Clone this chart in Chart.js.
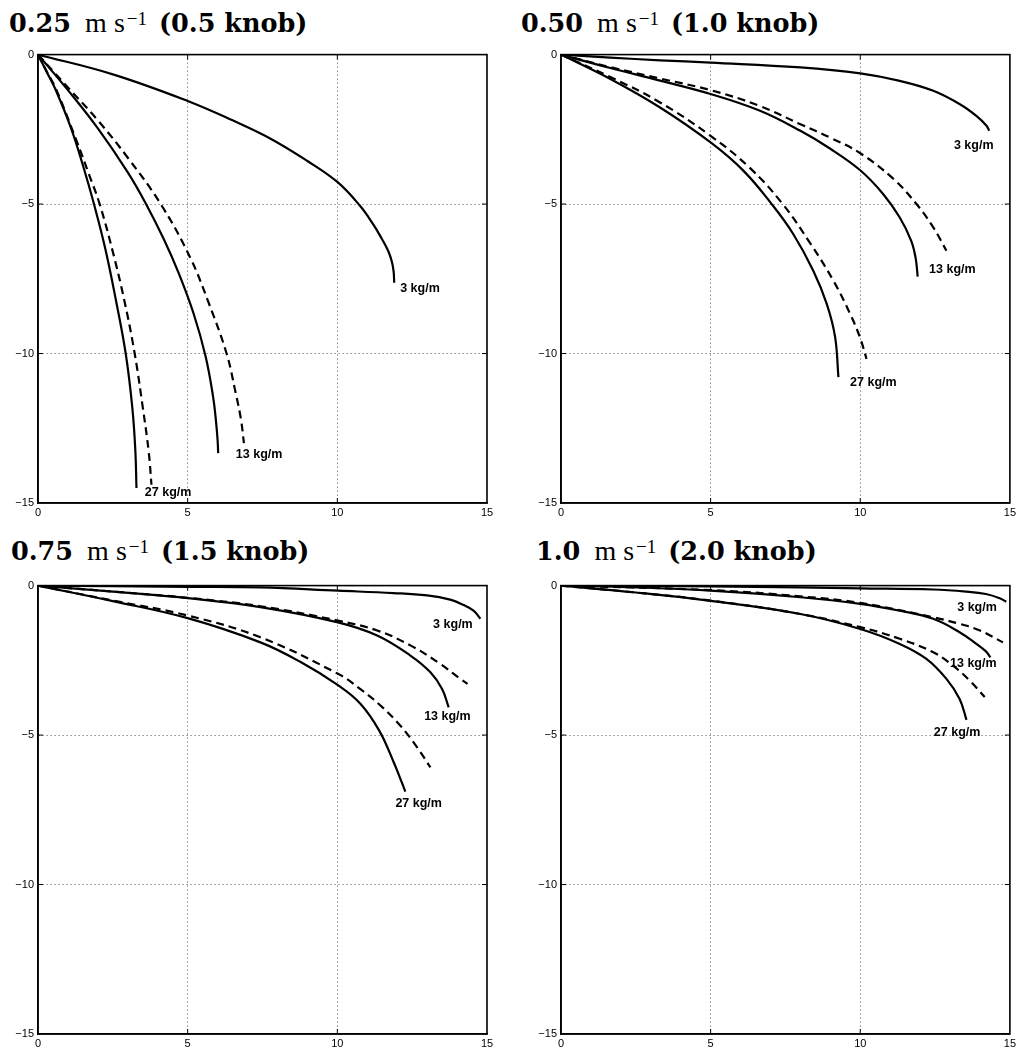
<!DOCTYPE html>
<html>
<head>
<meta charset="utf-8">
<script src="https://cdn.jsdelivr.net/npm/chart.js@4.4.1/dist/chart.umd.min.js"></script>
<style>
  body { margin: 0; background: #fff; width: 1019px; height: 1053px; position: relative; overflow: hidden; }
  canvas { position: absolute; }
  .ttl { position: absolute; font-family: "DejaVu Serif", "Liberation Serif", serif; font-size: 25.5px; font-weight: bold; line-height: 30px; white-space: nowrap; color: #000; }
  .ttl .u { font-family: "Liberation Serif", serif; font-weight: normal; font-size: 28px; margin: 0 12px 0 14px; }
  .ttl sup { font-size: 19px; position: relative; top: -4px; vertical-align: top; margin-left: 2px; }
</style>
</head>
<body>
<div class="ttl" style="left:9px;top:8px">0.25<span class="u">m s<sup>−1</sup></span>(0.5 knob)</div>
<div class="ttl" style="left:521px;top:8px">0.50<span class="u">m s<sup>−1</sup></span>(1.0 knob)</div>
<div class="ttl" style="left:11px;top:536px">0.75<span class="u">m s<sup>−1</sup></span>(1.5 knob)</div>
<div class="ttl" style="left:536px;top:536px">1.0<span class="u">m s<sup>−1</sup></span>(2.0 knob)</div>

<canvas id="c1" width="505" height="479" style="left:0;top:44px"></canvas>
<canvas id="c2" width="497" height="479" style="left:522px;top:44px"></canvas>
<canvas id="c3" width="505" height="479" style="left:0;top:575px"></canvas>
<canvas id="c4" width="497" height="479" style="left:522px;top:575px"></canvas>

<script>
// axis ticks
var xTicks = [0, 5, 10, 15];
var yTicks = [0, -5, -10, -15];
var curveLabels = ['3 kg/m', '13 kg/m', '27 kg/m'];

// 0.25 m/s  (x, depth)
var v025_3   = [[0,0],[2.5,-0.66],[5,-1.55],[6.5,-2.2],[7.8,-2.83],[9,-3.56],[10,-4.26],[10.75,-5.05],[11.2,-5.68],[11.48,-6.15],[11.7,-6.57],[11.82,-6.92],[11.88,-7.25],[11.9,-7.63]];
var v025_13s = [[0,0],[1,-1.19],[2,-2.47],[3,-3.94],[3.6,-4.98],[4.2,-6.17],[4.7,-7.31],[5.2,-8.67],[5.6,-10.1],[5.85,-11.45],[5.95,-12.3],[6.0,-12.9],[6.02,-13.33]];
var v025_13d = [[0,0],[0.5,-0.55],[1,-1.1],[2,-2.2],[3,-3.45],[4.1,-5.0],[5.07,-6.76],[5.7,-8.3],[6.3,-10],[6.6,-11.3],[6.78,-12.2],[6.88,-13.0]];
var v025_27s = [[0,0],[0.3,-0.6],[0.6,-1.2],[1.1,-2.45],[1.5,-3.7],[1.87,-5.0],[2.25,-6.5],[2.6,-8.2],[2.93,-10],[3.15,-11.8],[3.25,-13.2],[3.29,-14.5]];
var v025_27d = [[0,0],[0.3,-0.58],[0.6,-1.15],[1.28,-2.86],[1.7,-4.0],[2.06,-5.0],[2.5,-6.6],[2.9,-8.3],[3.23,-10],[3.5,-11.8],[3.7,-13.3],[3.79,-14.39]];

// 0.50 m/s
var v050_3   = [[0,0],[1.65,-0.1],[3.31,-0.19],[5,-0.27],[8,-0.43],[10,-0.63],[11.32,-0.88],[12.44,-1.21],[13.33,-1.66],[13.88,-2.05],[14.22,-2.38],[14.31,-2.55]];
var v050_13s = [[0,0],[1.65,-0.45],[3.31,-0.87],[5,-1.32],[6.65,-1.88],[8,-2.55],[9,-3.15],[10,-3.87],[10.77,-4.67],[11.32,-5.45],[11.7,-6.22],[11.85,-6.8],[11.92,-7.43]];
var v050_13d = [[0,0],[1.65,-0.42],[3.31,-0.8],[5,-1.19],[6.65,-1.72],[8,-2.33],[9,-2.78],[10,-3.3],[11.1,-4.15],[11.88,-5.0],[12.44,-5.78],[12.88,-6.56]];
var v050_27s = [[0,0],[1.62,-0.8],[3.31,-1.77],[5,-2.94],[6.1,-3.89],[7.04,-5.0],[7.76,-6.0],[8.43,-7.23],[8.88,-8.34],[9.16,-9.45],[9.27,-10.79]];
var v050_27d = [[0,0],[1.65,-0.75],[3.31,-1.6],[5,-2.72],[6.3,-3.78],[7.41,-5.0],[8.32,-6.3],[9.1,-7.56],[9.66,-8.67],[9.99,-9.46],[10.21,-10.18]];

// 0.75 m/s
var v075_3   = [[0,0],[5,-0.04],[7.43,-0.06],[10.02,-0.17],[11.88,-0.25],[13.0,-0.33],[13.77,-0.47],[14.22,-0.65],[14.55,-0.84],[14.78,-1.11]];
var v075_13s = [[0,0],[2.5,-0.2],[5,-0.42],[7.43,-0.72],[10.02,-1.23],[11.33,-1.67],[12.44,-2.34],[13.11,-2.9],[13.5,-3.46],[13.72,-4.07]];
var v075_13d = [[0,0],[2.5,-0.2],[5,-0.41],[7.43,-0.69],[10.02,-1.17],[11.33,-1.5],[12.44,-2.0],[13.44,-2.62],[14.11,-3.12],[14.35,-3.29]];
var v075_27s = [[0,0],[2.5,-0.52],[5,-1.09],[7.43,-1.9],[8.76,-2.55],[10.02,-3.33],[10.77,-3.95],[11.4,-4.85],[11.88,-5.9],[12.16,-6.6],[12.27,-6.89]];
var v075_27d = [[0,0],[2.5,-0.5],[5,-1.0],[7.43,-1.73],[10.02,-2.95],[10.77,-3.46],[11.44,-4.01],[12.1,-4.68],[12.66,-5.4],[13.11,-6.08]];

// 1.0 m/s
var v100_3   = [[0,0],[5,-0.03],[8,-0.06],[10,-0.09],[12.44,-0.13],[13.54,-0.2],[14.2,-0.28],[14.66,-0.42],[14.88,-0.54]];
var v100_13s = [[0,0],[2.5,-0.06],[5,-0.17],[8,-0.39],[10,-0.61],[11.32,-0.84],[12.44,-1.11],[13.32,-1.56],[13.88,-1.95],[14.2,-2.2],[14.35,-2.4]];
var v100_13d = [[0,0],[5,-0.15],[8,-0.36],[10,-0.58],[12.44,-1.06],[13.32,-1.28],[14.0,-1.5],[14.77,-1.9]];
var v100_27s = [[0,0],[2.5,-0.23],[5,-0.51],[8,-0.95],[10,-1.45],[11.32,-1.95],[12.21,-2.45],[12.88,-3.12],[13.32,-3.79],[13.55,-4.49]];
var v100_27d = [[0,0],[2.5,-0.23],[5,-0.5],[8,-0.95],[10,-1.39],[11.32,-1.78],[12.44,-2.23],[13.1,-2.68],[13.66,-3.18],[14.16,-3.73]];

// where the kg/m labels sit (data units, left edge / middle)
var v025_lab = [[12.1,-7.81],[6.61,-13.39],[3.57,-14.66]];
var v050_lab = [[13.13,-3.03],[12.3,-7.2],[9.66,-10.97]];
var v075_lab = [[13.2,-1.3],[12.9,-4.37],[11.94,-7.28]];
var v100_lab = [[13.24,-0.75],[13.0,-2.62],[12.46,-4.93]];

function pts(arr) {
  return arr.map(function(p){ return {x: p[0], y: p[1]}; });
}

function line(arr, dashed) {
  return {
    data: pts(arr),
    showLine: true,
    borderColor: '#000',
    borderWidth: 2.2,
    borderDash: dashed ? [8, 5] : [],
    pointRadius: 0,
    tension: 0.4,
    fill: false
  };
}

function minusFmt(v) {
  return v < 0 ? '\u2212' + Math.abs(v) : '' + v;
}

// box, inside ticks and curve labels
var boxPlugin = {
  id: 'box',
  afterDatasetsDraw: function(chart) {
    var ctx = chart.ctx, a = chart.chartArea;
    var xs = chart.scales.x, ys = chart.scales.y;
    ctx.save();
    ctx.strokeStyle = '#000';
    ctx.lineWidth = 1;
    xTicks.slice(1, -1).forEach(function(t){
      var px = xs.getPixelForValue(t);
      ctx.beginPath(); ctx.moveTo(px, a.bottom); ctx.lineTo(px, a.bottom - 5); ctx.stroke();
      ctx.beginPath(); ctx.moveTo(px, a.top); ctx.lineTo(px, a.top + 5); ctx.stroke();
    });
    yTicks.slice(1, -1).forEach(function(t){
      var py = ys.getPixelForValue(t);
      ctx.beginPath(); ctx.moveTo(a.left, py); ctx.lineTo(a.left + 5, py); ctx.stroke();
      ctx.beginPath(); ctx.moveTo(a.right, py); ctx.lineTo(a.right - 5, py); ctx.stroke();
    });
    ctx.lineWidth = 1.6;
    ctx.strokeRect(a.left, a.top, a.right - a.left, a.bottom - a.top);

    var labs = chart.options.plugins.box.labels;
    ctx.fillStyle = '#000';
    ctx.font = 'bold 12.5px "Liberation Sans", Arial, sans-serif';
    ctx.textAlign = 'left';
    ctx.textBaseline = 'middle';
    labs.forEach(function(p, i){
      ctx.fillText(curveLabels[i], xs.getPixelForValue(p[0]), ys.getPixelForValue(p[1]));
    });
    ctx.restore();
  }
};

function makePanel(id, c3, c13s, c13d, c27s, c27d, labs, yWidth, padRight) {
  var gridColor = function(c) {
    var v = c.tick ? c.tick.value : null;
    return (v === 0 || v === 15 || v === -15) ? 'rgba(0,0,0,0)' : '#555';
  };
  var tickFont = { family: '"Liberation Sans", Arial, sans-serif', size: 11 };
  new Chart(document.getElementById(id), {
    type: 'scatter',
    data: {
      datasets: [line(c3, false), line(c13s, false), line(c13d, true), line(c27s, false), line(c27d, true)]
    },
    options: {
      responsive: false,
      animation: false,
      layout: { padding: { left: 0, right: padRight, top: 10, bottom: 0 } },
      plugins: {
        legend: { display: false },
        tooltip: { enabled: false },
        title: { display: false },
        box: { labels: labs }
      },
      scales: {
        x: {
          type: 'linear', min: 0, max: 15,
          afterBuildTicks: function(s){ s.ticks = xTicks.map(function(v){ return {value: v}; }); },
          afterFit: function(s){ s.height = 20; },
          ticks: { color: '#000', font: tickFont, padding: 3, maxRotation: 0, callback: minusFmt },
          grid: { color: gridColor, lineWidth: 1, drawTicks: false },
          border: { display: true, color: '#000', width: 1.6, dash: [1, 3] }
        },
        y: {
          type: 'linear', min: -15, max: 0,
          afterBuildTicks: function(s){ s.ticks = yTicks.map(function(v){ return {value: v}; }); },
          afterFit: function(s){ s.width = yWidth; },
          ticks: { color: '#000', font: tickFont, padding: 4, callback: minusFmt },
          grid: { color: gridColor, lineWidth: 1, drawTicks: false },
          border: { display: true, color: '#000', width: 1.6, dash: [1, 3] }
        }
      }
    },
    plugins: [boxPlugin]
  });
}

makePanel('c1', v025_3, v025_13s, v025_13d, v025_27s, v025_27d, v025_lab, 38, 18);
makePanel('c2', v050_3, v050_13s, v050_13d, v050_27s, v050_27d, v050_lab, 39, 9);
makePanel('c3', v075_3, v075_13s, v075_13d, v075_27s, v075_27d, v075_lab, 38, 18);
makePanel('c4', v100_3, v100_13s, v100_13d, v100_27s, v100_27d, v100_lab, 39, 9);
</script>
</body>
</html>
